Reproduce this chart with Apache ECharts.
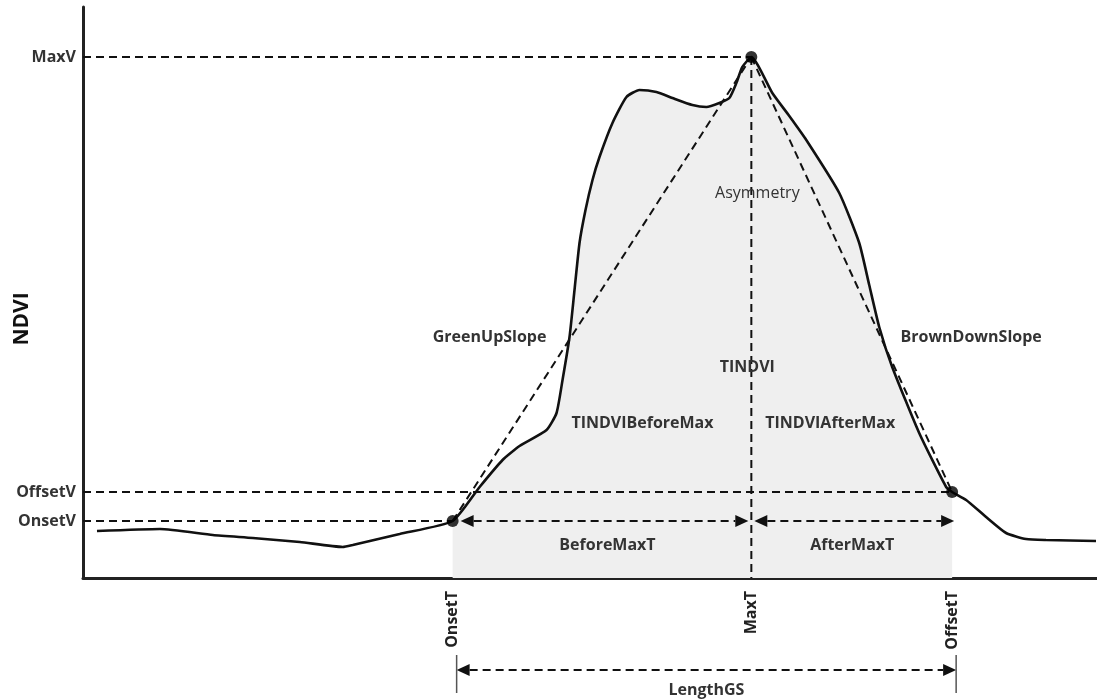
<!DOCTYPE html>
<html>
<head>
<meta charset="utf-8">
<title>NDVI phenology metrics</title>
<script src="https://cdn.jsdelivr.net/npm/echarts@6.0.0/dist/echarts.min.js"></script>
<style>
    html, body { margin: 0; padding: 0; background: #fff; }
    #main { width: 1097px; height: 700px; }
</style>
</head>
<body>
<div id="main"></div>
<script>
// NDVI time series (time step, NDVI)
var curveT = [2.8, 15.4, 26, 34, 43.4, 52, 54, 63.4, 74, 79.4, 84, 87.4, 92.8, 94.8, 96, 97.4,
    98.4, 99.4, 100.6, 102, 103.4, 106, 108.8, 111.4, 114.8, 118, 122, 124.8, 127.4, 129.4, 130.8,
    132, 133.8, 138, 141.4, 144.8, 151.4, 155.4, 157.4, 159.4, 162, 167.4, 172.8, 174, 176.8,
    180.8, 184.8, 188.8, 192.8, 202.8];
var curveV = [0.094, 0.098, 0.086, 0.080, 0.072, 0.062, 0.066, 0.088, 0.114, 0.182, 0.236, 0.264,
    0.296, 0.330, 0.396, 0.482, 0.576, 0.670, 0.736, 0.796, 0.842, 0.910, 0.962, 0.976, 0.972,
    0.960, 0.946, 0.942, 0.950, 0.960, 0.990, 1.022, 1.042, 0.970, 0.924, 0.876, 0.770, 0.670,
    0.586, 0.502, 0.422, 0.290, 0.182, 0.172, 0.156, 0.122, 0.090, 0.078, 0.076, 0.074];

// key phenology points
var onsetT = 74, onsetV = 0.114;
var maxT = 133.8, maxV = 1.042;
var offsetT = 174, offsetV = 0.172;

var xTickValues = [onsetT, maxT, offsetT];
var xTickNames = ['OnsetT', 'MaxT', 'OffsetT'];
var yTickValues = [onsetV, offsetV, maxV];
var yTickNames = ['OnsetV', 'OffsetV', 'MaxV'];

// annotation texts: [text, t, ndvi, weight]
var notes = [
    ['GreenUpSlope', 81.4, 0.482, 'bold'],
    ['Asymmetry', 135, 0.77, 'normal'],
    ['TINDVI', 133, 0.422, 'bold'],
    ['TINDVIBeforeMax', 112, 0.31, 'bold'],
    ['TINDVIAfterMax', 149.6, 0.31, 'bold'],
    ['BrownDownSlope', 177.8, 0.482, 'bold'],
    ['BeforeMaxT', 105, 0.066, 'bold'],
    ['AfterMaxT', 154, 0.066, 'bold'],
    ['LengthGS', 124.8, -0.224, 'bold']
];
var lengthGSV = -0.184;

var FONT = '"Open Sans", "DejaVu Sans", sans-serif';
var INK = '#111';

var curve = curveT.map(function (t, i) { return [t, curveV[i]]; });
var season = curve.filter(function (p) { return p[0] >= onsetT && p[0] <= offsetT; });

function nearestName(v, values, names) {
    var best = 0;
    values.forEach(function (x, i) {
        if (Math.abs(x - v) < Math.abs(values[best] - v)) best = i;
    });
    return names[best];
}

function guide(a, b) {
    return {
        type: 'line',
        data: [a, b],
        showSymbol: false,
        silent: true,
        z: 3,
        lineStyle: { color: INK, width: 2, type: [8, 5] }
    };
}

var chart = echarts.init(document.getElementById('main'));

var option = {
    animation: false,
    backgroundColor: '#fff',
    grid: { left: 83, top: 7, width: 1015, height: 571 },
    xAxis: {
        type: 'value',
        min: 0,
        max: 203,
        splitLine: { show: false },
        axisTick: { show: false },
        axisLine: { lineStyle: { color: '#222', width: 3 } },
        axisLabel: {
            customValues: xTickValues,
            rotate: 90,
            margin: 13,
            color: '#222',
            fontFamily: FONT,
            fontWeight: 700,
            fontSize: 16,
            formatter: function (v) { return nearestName(v, xTickValues, xTickNames); }
        }
    },
    yAxis: {
        type: 'value',
        min: 0,
        max: 1.142,
        splitLine: { show: false },
        axisTick: { show: false },
        axisLine: { show: true, lineStyle: { color: '#222', width: 3 } },
        axisLabel: {
            customValues: yTickValues,
            margin: 7,
            color: '#333',
            fontFamily: FONT,
            fontWeight: 'bold',
            fontSize: 16,
            formatter: function (v) { return nearestName(v, yTickValues, yTickNames); }
        }
    },
    series: [
        {
            // growing season area
            type: 'line',
            data: season,
            smooth: 0.18,
            showSymbol: false,
            silent: true,
            z: 1,
            lineStyle: { width: 0 },
            areaStyle: { color: '#efefef', opacity: 1 }
        },
        guide([0, maxV], [maxT, maxV]),
        guide([0, offsetV], [offsetT, offsetV]),
        guide([0, onsetV], [onsetT, onsetV]),
        guide([maxT, maxV], [maxT, 0]),
        guide([onsetT, onsetV], [maxT, maxV]),
        guide([maxT, maxV], [offsetT, offsetV]),
        {
            type: 'line',
            data: curve,
            smooth: 0.18,
            showSymbol: false,
            silent: true,
            z: 5,
            lineStyle: { color: INK, width: 2.6 }
        },
        {
            type: 'scatter',
            data: [[onsetT, onsetV], [maxT, maxV], [offsetT, offsetV]],
            symbolSize: 12,
            silent: true,
            z: 6,
            itemStyle: { color: '#000' }
        }
    ]
};
chart.setOption(option);

// arrows and text placed through the axes' own scales
function px(t, v) { return chart.convertToPixel({ gridIndex: 0 }, [t, v]); }

function arrow(x1, x2, y) {
    var h = 13, w = 6;
    return [
        { type: 'line', z: 7, shape: { x1: x1 + h, y1: y, x2: x2 - h, y2: y },
          style: { stroke: INK, lineWidth: 2, lineDash: [8, 5] } },
        { type: 'polygon', z: 7, shape: { points: [[x1, y], [x1 + h, y - w], [x1 + h, y + w]] },
          style: { fill: INK } },
        { type: 'polygon', z: 7, shape: { points: [[x2, y], [x2 - h, y - w], [x2 - h, y + w]] },
          style: { fill: INK } }
    ];
}

var pOn = px(onsetT, onsetV), pMax = px(maxT, maxV), pOff = px(offsetT, offsetV);
var yGS = px(onsetT, lengthGSV)[1];
var graphics = [];
graphics = graphics.concat(arrow(pOn[0] + 8, pMax[0] - 3, pOn[1]));
graphics = graphics.concat(arrow(pMax[0] + 3, pOff[0] + 2, pOn[1]));
graphics = graphics.concat(arrow(pOn[0] + 4, pOff[0] + 4, yGS));
[pOn[0] + 4, pOff[0] + 4].forEach(function (x) {
    graphics.push({ type: 'line', z: 7, shape: { x1: x, y1: yGS - 15, x2: x, y2: yGS + 23 },
        style: { stroke: '#555', lineWidth: 1.5 } });
});
notes.forEach(function (n) {
    var p = px(n[1], n[2]);
    graphics.push({
        type: 'text', x: p[0], y: p[1], z: 10,
        style: { text: n[0], fill: '#333', font: n[3] + ' 16px ' + FONT,
                 align: 'center', verticalAlign: 'middle' }
    });
});
graphics.push({
    type: 'text', x: 22, y: 319, rotation: Math.PI / 2, z: 10,
    style: { text: 'NDVI', fill: '#111', font: 'bold 21px ' + FONT,
             align: 'center', verticalAlign: 'middle' }
});
chart.setOption({ graphic: graphics });
</script>
</body>
</html>
